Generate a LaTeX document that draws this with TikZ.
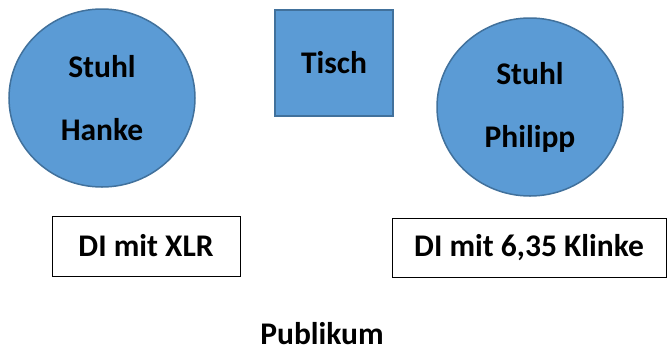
\documentclass[tikz,border=0pt]{standalone}
\usepackage{fontspec}
\setmainfont{Carlito}
\usetikzlibrary{shapes.geometric}
\definecolor{officeblue}{HTML}{5B9BD5}
\definecolor{officeedge}{HTML}{41719C}
\tikzset{
  txt/.style={font=\bfseries\fontsize{31.5}{38}\selectfont, text=black, align=center, inner sep=0pt},
  chair/.style={txt, ellipse, fill=officeblue, draw=officeedge, line width=1.5pt, minimum width=186pt, minimum height=178pt},
  table/.style={txt, rectangle, fill=officeblue, draw=officeedge, line width=1.5pt, minimum width=118pt, minimum height=106pt},
  dibox/.style={txt, rectangle, draw=black, line width=1pt, fill=white, minimum height=60pt}
}
\begin{document}
\begin{tikzpicture}[x=1pt,y=-1pt]
\useasboundingbox (0,0) rectangle (667,349);
\node[chair] (hanke) at (102,98) {Stuhl\\[25pt]Hanke};
\node[table] (tisch) at (334,63) {Tisch};
\node[chair] (philipp) at (530,107) {Stuhl\\[25pt]Philipp};
\node[dibox, minimum width=188pt] (xlr) at (146,246) {DI mit XLR};
\node[dibox, minimum width=274pt, minimum height=59pt] (klinke) at (529,247.5) {DI mit 6,35 Klinke};
\node[font=\bfseries\fontsize{31.5}{38}\selectfont, inner sep=0pt, anchor=base] (publikum) at (322,344) {Publikum};
\end{tikzpicture}
\end{document}
